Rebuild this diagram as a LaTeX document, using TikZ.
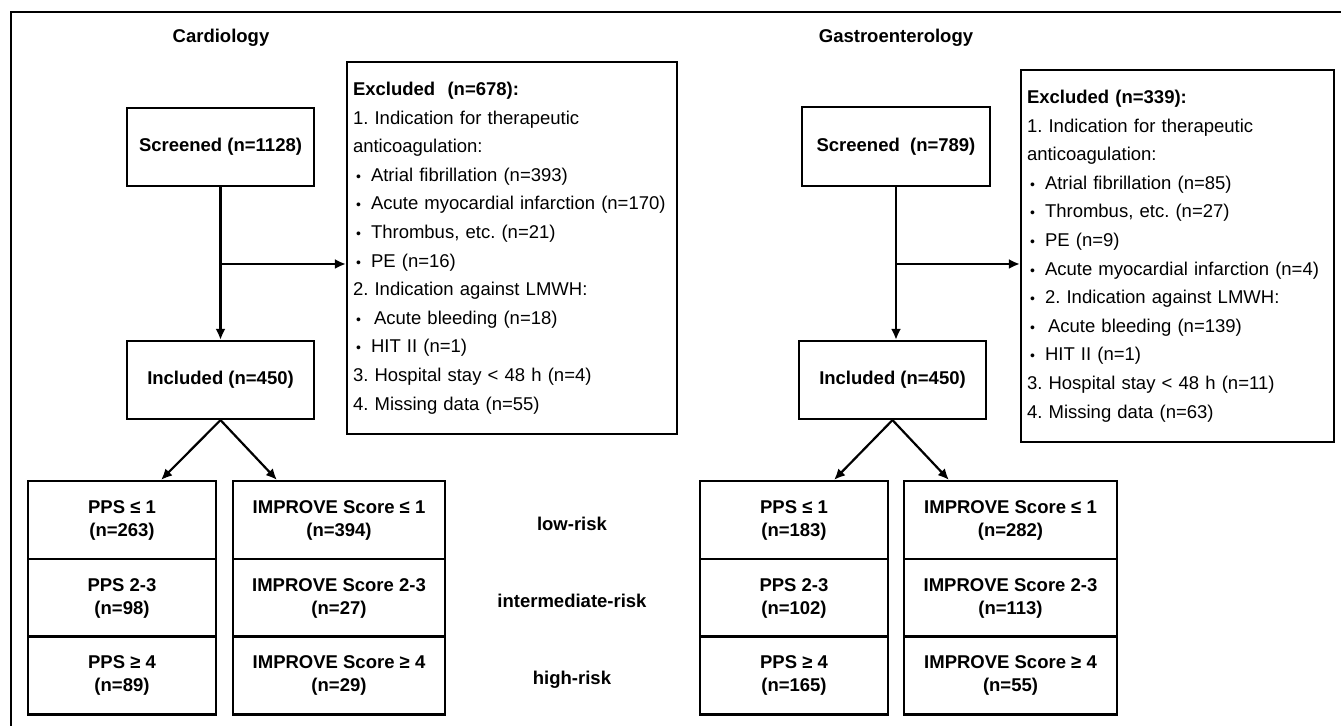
\documentclass[tikz,border=0pt]{standalone}
\usepackage{fontspec}
\setmainfont{Liberation Sans}
\usetikzlibrary{arrows.meta}

\newcommand\bsize{\fontsize{9.25pt}{14.3pt}\selectfont\frenchspacing}
\newcommand\rsize{\fontsize{9.25pt}{11.5pt}\selectfont}
\newcommand\bul{\makebox[9pt][l]{\hspace{1.5pt}\scriptsize\textbullet}}

\tikzset{
  frame/.style={line width=1.2pt},
  title/.style={font=\bsize\bfseries},
  box/.style={draw, line width=1.1pt, align=center, inner sep=0pt,
    minimum height=39pt, font=\bsize\bfseries},
  riskbox/.style={box, font=\rsize\bfseries},
  exbox/.style={draw, line width=1.1pt, align=left, inner xsep=3pt,
    inner ysep=0pt, minimum height=186pt, font=\bsize},
  risklabel/.style={font=\bsize\bfseries},
  arr/.style={line width=1.1pt, -{Latex[length=5.5pt,width=5pt]}}
}

\begin{document}
\begin{tikzpicture}[x=0.5pt,y=-0.5pt]
  \useasboundingbox (0,0) rectangle (1341,726);
  \draw[frame] (11,726) -- (11,12) -- (1341,12);

  % cardiology
  \node[title] (ctitle) at (221,38) {Cardiology};
  \node[box, minimum width=93.5pt] (cscr) at (220.5,147) {Screened (n=1128)};
  \node[box, minimum width=93.5pt] (cinc) at (220.5,380) {Included (n=450)};
  \node[exbox, text width=159pt] (cexc) at (512,248) {%
    \textbf{Excluded\ \ (n=678):}\\
    1. Indication for therapeutic\\
    anticoagulation:\\
    \bul Atrial fibrillation (n=393)\\
    \bul Acute myocardial infarction (n=170)\\
    \bul Thrombus, etc. (n=21)\\
    \bul PE (n=16)\\
    2. Indication against LMWH:\\
    \bul\hspace{1.5pt}Acute bleeding (n=18)\\
    \bul HIT II (n=1)\\
    3. Hospital stay < 48 h (n=4)\\
    4. Missing data (n=55)};

  \coordinate (cbr) at (220.5,264);
  \draw[arr] (cscr) -- (cinc);
  \draw[arr] (cbr) -- (cbr -| cexc.west);

  \foreach \r/\y/\pa/\pb/\ia/\ib in {1/520/{PPS ≤ 1}/263/{IMPROVE Score ≤ 1}/394,
      2/598/{PPS 2-3}/98/{IMPROVE Score 2-3}/27,
      3/675.5/{PPS ≥ 4}/89/{IMPROVE Score ≥ 4}/29} {
    \node[riskbox, minimum width=94pt] (cpps\r) at (122,\y) {\pa\\(n=\pb)};
    \node[riskbox, minimum width=106pt] (cimp\r) at (339,\y) {\ia\\(n=\ib)};
  }
  \draw[arr] (cinc.south) -- ([xshift=-28pt]cpps1.north east);
  \draw[arr] (cinc.south) -- ([xshift=22.5pt]cimp1.north west);

  \foreach \r/\y/\t in {1/524/low-risk, 2/601/intermediate-risk, 3/680/high-risk}
    \node[risklabel] (risk\r) at (572,\y) {\t};

  % gastroenterology
  \node[title] (gtitle) at (896,38) {Gastroenterology};
  \node[box, minimum width=94pt, minimum height=39.5pt] (gscr) at (896,146.5) {Screened\ \ (n=789)};
  \node[box, minimum width=93.5pt] (ginc) at (892.5,380) {Included (n=450)};
  \node[exbox, text width=150.5pt] (gexc) at (1177.5,256) {%
    \textbf{Excluded (n=339):}\\
    1. Indication for therapeutic\\
    anticoagulation:\\
    \bul Atrial fibrillation (n=85)\\
    \bul Thrombus, etc. (n=27)\\
    \bul PE (n=9)\\
    \bul Acute myocardial infarction (n=4)\\
    \bul 2. Indication against LMWH:\\
    \bul\hspace{1.5pt}Acute bleeding (n=139)\\
    \bul HIT II (n=1)\\
    3. Hospital stay < 48 h (n=11)\\
    4. Missing data (n=63)};

  \coordinate (gbr) at (896,264);
  \draw[arr] (gscr.south) -- (gscr.south |- ginc.north);
  \draw[arr] (gbr) -- (gbr -| gexc.west);

  \foreach \r/\y/\pa/\pb/\ia/\ib in {1/520/{PPS ≤ 1}/183/{IMPROVE Score ≤ 1}/282,
      2/598/{PPS 2-3}/102/{IMPROVE Score 2-3}/113,
      3/675.5/{PPS ≥ 4}/165/{IMPROVE Score ≥ 4}/55} {
    \node[riskbox, minimum width=94pt] (gpps\r) at (794,\y) {\pa\\(n=\pb)};
    \node[riskbox, minimum width=106.5pt] (gimp\r) at (1010.5,\y) {\ia\\(n=\ib)};
  }
  \draw[arr] (ginc.south) -- ([xshift=-27.5pt]gpps1.north east);
  \draw[arr] (ginc.south) -- ([xshift=23pt]gimp1.north west);

\end{tikzpicture}
\end{document}
